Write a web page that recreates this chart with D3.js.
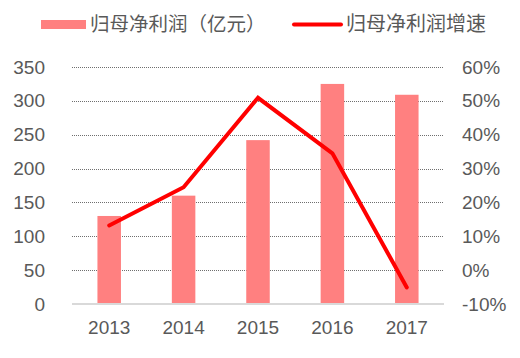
<!DOCTYPE html>
<html><head><meta charset="utf-8">
<script src="https://cdn.jsdelivr.net/npm/d3@7"></script>
<style>body{margin:0;background:#fff}svg{display:block}</style>
</head><body><div id="c"></div>
<script>
const categories = ["2013","2014","2015","2016","2017"];
const profit = [130, 160, 242, 325, 309];
const growth = [13.2, 24.5, 50.9, 34.5, -5.1];
const leftTicks = [0,50,100,150,200,250,300,350];
const rightTicks = [-10,0,10,20,30,40,50,60];
const seriesNames = ["归母净利润（亿元）","归母净利润增速"];

const W=520,H=358;
const m={l:72,r:76,t:67,b:54};
const svg=d3.select("#c").append("svg").attr("width",W).attr("height",H);
const x=d3.scaleBand().domain(categories).range([m.l,W-m.r]).paddingInner(0.684).paddingOuter(0.342);
const yL=d3.scaleLinear().domain([0,350]).range([H-m.b,m.t]);
const yR=d3.scaleLinear().domain([-10,60]).range([H-m.b,m.t]);
const font="Liberation Sans, Arial, sans-serif";
const cjk="'Noto Sans CJK SC', sans-serif";

// grid
svg.append("g").selectAll("line").data(leftTicks.filter(d=>d>0)).join("line")
 .attr("x1",m.l).attr("x2",W-m.r).attr("y1",d=>Math.round(yL(d))+0.5).attr("y2",d=>Math.round(yL(d))+0.5)
 .attr("stroke","#6f6f6f").attr("stroke-width",1).attr("stroke-dasharray","1,1");

// bars
svg.append("g").selectAll("rect").data(profit).join("rect")
 .attr("x",(d,i)=>x(categories[i])).attr("width",x.bandwidth())
 .attr("y",d=>yL(d)).attr("height",d=>yL(0)-yL(d)).attr("fill","#ff8080");

// baseline
svg.append("line").attr("x1",m.l).attr("x2",W-m.r).attr("y1",yL(0)).attr("y2",yL(0))
 .attr("stroke","#d9d9d9").attr("stroke-width",2);

// line
const line=d3.line().x((d,i)=>x(categories[i])+x.bandwidth()/2).y(d=>yR(d));
svg.append("path").datum(growth).attr("d",line).attr("fill","none")
 .attr("stroke","#ff0000").attr("stroke-width",4).attr("stroke-linejoin","miter").attr("stroke-linecap","round");

// left axis
const axL=svg.append("g").attr("transform",`translate(${m.l},0)`)
 .call(d3.axisLeft(yL).tickValues(leftTicks).tickSize(0).tickPadding(27));
axL.select(".domain").remove();
axL.selectAll("text").attr("font-family",font).attr("font-size",19).attr("fill","#595959");

// right axis
const axR=svg.append("g").attr("transform",`translate(${W-m.r},0)`)
 .call(d3.axisRight(yR).tickValues(rightTicks).tickSize(0).tickPadding(18).tickFormat(d=>d+"%"));
axR.select(".domain").remove();
axR.selectAll("text").attr("font-family",font).attr("font-size",19).attr("fill","#595959");

// x axis
const axX=svg.append("g").attr("transform",`translate(0,${yL(0)})`)
 .call(d3.axisBottom(x).tickSize(0).tickPadding(17));
axX.select(".domain").remove();
axX.selectAll("text").attr("font-family",font).attr("font-size",19).attr("fill","#595959");

// legend
const lg=svg.append("g");
lg.append("rect").attr("x",41).attr("y",20).attr("width",45).attr("height",9).attr("fill","#ff8080");
lg.append("text").attr("x",90).attr("y",31).attr("font-family",cjk).attr("font-size",19.5).attr("fill","#595959").text(seriesNames[0]);
lg.append("line").attr("x1",294).attr("x2",341).attr("y1",24.5).attr("y2",24.5).attr("stroke","#ff0000").attr("stroke-width",4).attr("stroke-linecap","round");
lg.append("text").attr("x",346).attr("y",31).attr("font-family",cjk).attr("font-size",20).attr("fill","#595959").text(seriesNames[1]);
</script></body></html>
